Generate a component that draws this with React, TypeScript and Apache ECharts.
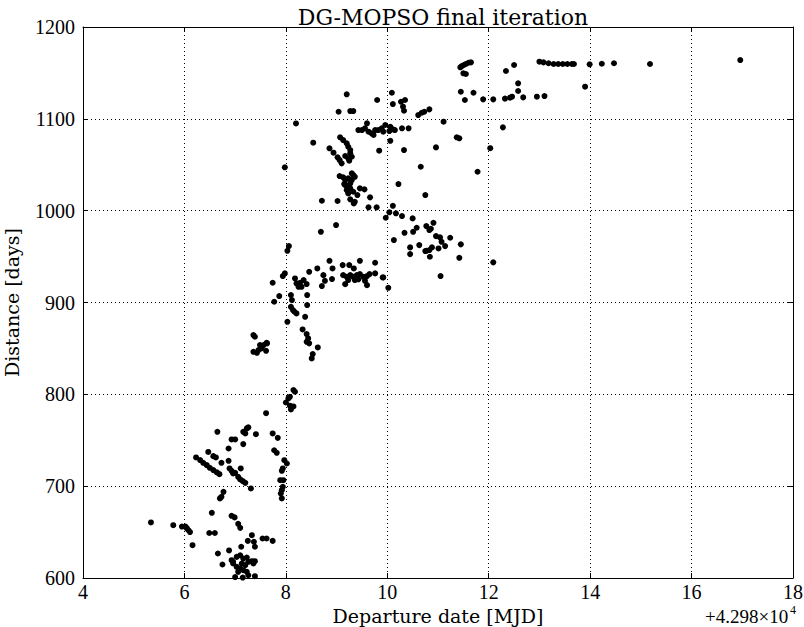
import React, { useEffect, useRef } from "react";
import * as echarts from "echarts";

const xTicks = [4, 6, 8, 10, 12, 14, 16, 18];
const yTicks = [600, 700, 800, 900, 1000, 1100, 1200];

const lowCluster: number[][] = [
  [5.34,660.5],[5.78,657.5],[5.95,656],[6.02,656],[6.05,654],[6.08,652],[6.11,650],[6.16,635.7],[6.54,671],[6.93,667.7],[6.99,666],[7.06,659],[7.1,654.6],[6.49,649],[6.6,649],[7.33,646.6],[7.25,640.4],[7.37,639.4],[7.39,634],[7.54,643],[7.62,643],[7.74,640.4],[7.12,634],[6.66,626.7],[6.88,630],[6.75,614.7],
  [6.93,619.4],[6.96,617.6],[7.03,623],[7.1,624.8],[7.16,621.2],[7.23,622.3],[7.26,617.6],[7.33,618.3],[7.39,618.3],[7.36,615.8],[7.2,614],[7.03,612.1],[7.1,610.4],[7.16,608.5],[7.23,606.7],[7.06,606.7],[7.26,603],[7.39,602],[6.96,615.8],[7.13,615.8],[7.0,601],[7.15,600.5],
  [6.77,693.8],[6.73,688.4],[6.7,686.6],[7.31,697.5]
];

const lowerMidCluster: number[][] = [
  [6.23,731.3],[6.31,728.4],[6.37,725.4],[6.44,722.9],[6.5,720],[6.57,717.5],[6.64,715],[6.69,713.1],[6.47,737.3],[6.57,732.7],[6.62,731.3],[6.73,725.4],[6.65,759.2],[6.87,741],[6.93,750.9],[7.0,750.9],[7.16,759.2],[7.23,762.9],[7.26,764],[7.2,757.4],[7.16,745.8],[7.41,756.6],[7.61,779.5],[7.74,757.4],[7.84,752.6],[7.77,739.1],[7.82,736.3],[6.87,727.6],[6.89,719.3],[6.93,716.7],[6.96,713.8],[7.0,714.5],[7.11,719.3],[7.06,710.1],[7.1,707.3],[7.15,705.5],[7.2,703.6],
  [8.0,791.1],[8.08,787.6],[8.15,786.8],[8.1,783.6],[7.97,728.3],[8.02,724.7],[7.94,719.3],[7.92,716.7],[7.89,706.5],[7.95,706.5],[7.94,699.3],[7.92,695.6],[7.9,692],[7.92,686.6],[8.15,804.6],[8.18,802.8],[8.08,797.3],[8.05,795.5]
];

const middleCluster: number[][] = [
  [7.74,921.5],[7.87,907],[7.77,900.8],[8.1,908.1],[8.12,902.6],[8.1,895.3],[8.14,891.7],[8.17,889.9],[8.21,888.1],[8.03,879],[8.42,908.1],[8.42,897.2],[8.38,884.4],[8.33,870.7],[8.41,865.6],[8.44,860.9],[8.41,857.2],[8.46,855.5],[8.63,851.1],[8.53,843.8],[8.51,839.1],
  [7.36,864.5],[7.39,862.7],[7.62,856.1],[7.56,853.6],[7.61,847.4],[7.52,850],[7.46,848.2],[7.43,845.2],[7.36,846.3],[7.49,853.6],[7.63,855.5],
  [7.98,931.7],[7.94,928.8],[8.18,926.2],[8.21,920.8],[8.28,921.5],[8.35,924.4],[8.31,917.1],[8.41,920.1],[8.25,917.1],[8.46,933.4],[8.62,937.1],[8.74,929.8],[8.77,923.6],[8.71,917.9],[8.86,945.4],[8.92,937.1],[8.91,925.5],[8.06,961.4],[8.03,956.3],[8.69,977],[8.99,984.3]
];

const rightMidCluster: number[][] = [
  [9.12,940.7],[9.25,940.7],[9.46,945.4],[9.34,937.1],[9.76,943.3],[9.76,931.7],[9.92,927.3],[9.13,929.8],[9.2,928],[9.27,929.8],[9.33,928],[9.4,929.8],[9.46,930.9],[9.53,928],[9.6,928.8],[9.23,924.4],[9.36,924.4],[9.43,925.2],[9.56,923.6],[9.17,920],[9.6,918.9],[9.65,930.9],[10.02,916],[9.91,927.3],
  [10.04,998.2],[10.17,997.1],[10.29,994.1],[9.97,992.3],[10.5,991.6],[10.58,981.4],[10.51,977],[10.34,975.9],[10.13,968],[10.77,983.2],[10.83,978.9],[10.86,980.3],[10.91,986.8],[10.45,960],[10.45,952.7],[10.63,962.5],[10.77,956.3],[10.96,972.3],[11.04,970.9],[11.07,966.1],[11.14,961.4],[11.24,970.5],[11.45,963.3],[11.01,958.9],[10.88,960],[10.83,957.1],[10.75,956],[10.84,949.8],[11.42,948.7],[11.05,928.8],[12.09,943.7]
];

const upperCluster: number[][] = [
  [7.98,1047.2],[9.1,1051.5],[9.25,1054.4],[9.06,1037.7],[9.13,1036.3],[9.17,1033.3],[9.23,1035.2],[9.3,1040.6],[9.33,1038.8],[9.36,1036.9],[9.15,1029],[9.21,1026.8],[9.27,1024.3],[9.2,1022.4],[9.23,1018.8],[9.33,1020.6],[9.41,1017],[9.46,1024.3],[9.55,1023.2],[9.27,1012.3],[9.36,1009.7],[9.34,1007.9],[9.17,1027.9],[9.27,1029.7],[9.3,1033.3],[8.71,1010.8],[9.02,1010.5],[9.66,1014.5],[9.63,1003.6],[9.79,1003.6],[10.22,1029],[10.66,1047.8],[10.75,1017],[10.11,1005.3],[11.78,1042.4],
  [9.2,1126.7],[9.8,1120.5],[10.09,1128.4],[10.11,1116.1],[10.27,1118.6],[10.35,1120.5],[10.31,1113.2],[10.33,1108.8],[9.04,1107.7],[9.27,1108.5],[9.33,1108.5],[10.61,1104.1],[10.68,1106.6],[10.73,1107.7],[10.83,1110.3],[11.11,1096.9],[11.37,1079.9],[11.42,1078.8],
  [8.54,1074],[8.86,1067.9],[8.94,1063.1],[9.02,1058.1],[9.06,1055.1],[9.07,1079.9],[9.13,1076.9],[9.2,1073.3],[9.23,1069.6],[9.27,1066],[9.27,1062.4],[9.3,1058.7],[9.23,1057],[9.17,1059.5],
  [9.43,1087.8],[9.5,1087.8],[9.56,1089.7],[9.6,1095.1],[9.63,1086],[9.69,1084.2],[9.73,1082.4],[9.76,1087.8],[9.82,1087.8],[9.89,1089.7],[9.96,1093.3],[9.92,1086],[10.06,1091.4],[10.11,1088.6],[10.15,1087.8],[10.04,1086.7],[10.29,1089.7],[10.42,1089.7],[10.06,1076.1],[9.84,1065.3],[10.33,1066],[10.96,1068.9],[8.2,1095],[12.28,1090.7],[12.03,1068]
];

const topCluster: number[][] = [
  [11.44,1156.1],[11.47,1157.5],[11.51,1158.6],[11.55,1159.7],[11.6,1161.1],[11.65,1161.5],[11.5,1149.6],[11.55,1148.8],[11.45,1129.5],[11.7,1128.4],[11.53,1120.5],[11.89,1121.2],[12.09,1121.2],[12.34,1152.1],[12.5,1158.6],[12.58,1138.7],[12.58,1130.3],[12.32,1122],[12.42,1123],[12.46,1124.1],[12.68,1123.4],[12.95,1124.1],[13.1,1124.8],
  [13.0,1162.2],[13.08,1161.5],[13.18,1160.5],[13.28,1159.7],[13.37,1159.7],[13.46,1159.7],[13.55,1159.7],[13.64,1159.7],[13.68,1159.7],[13.99,1159.4],[14.23,1160],[14.47,1160.5],[13.9,1135],[15.18,1159.7],[16.96,1164]
];

const NUM_FONT = "'Liberation Serif', serif";
const TXT_FONT = "'DejaVu Serif', serif";

export default function App() {
  const ref = useRef<HTMLDivElement>(null);
  useEffect(() => {
    if (!ref.current) return;
    const chart = echarts.init(ref.current, null, { renderer: "svg" });
    const points = [
      ...lowCluster,
      ...lowerMidCluster,
      ...middleCluster,
      ...rightMidCluster,
      ...upperCluster,
      ...topCluster,
    ];
    const dotted = { color: "#000", width: 1, type: [1, 3] as any };
    const axisLine = { show: true, lineStyle: { color: "#000", width: 1 } };
    const tick = { show: true, inside: true, length: 5, lineStyle: { color: "#000" } };
    chart.setOption({
      animation: false,
      backgroundColor: "#fff",
      title: {
        text: "DG-MOPSO final iteration",
        left: 438,
        textAlign: "center",
        top: 1,
        textStyle: { fontFamily: TXT_FONT, fontSize: 22, fontWeight: "normal", color: "#000" },
      },
      grid: { left: 83, right: 11, top: 27, bottom: 49, containLabel: false, outerBoundsMode: "none" } as any,
      xAxis: [
        {
          type: "value",
          min: xTicks[0],
          max: xTicks[xTicks.length - 1],
          interval: 2,
          position: "bottom",
          name: "Departure date [MJD]",
          nameLocation: "middle",
          nameGap: 24,
          nameTextStyle: { fontFamily: TXT_FONT, fontSize: 19, color: "#000" },
          axisLine,
          axisTick: tick,
          axisLabel: { fontFamily: NUM_FONT, fontSize: 20, color: "#000", margin: 4 },
          splitLine: { show: true, lineStyle: dotted },
        },
        {
          type: "value",
          min: xTicks[0],
          max: xTicks[xTicks.length - 1],
          interval: 2,
          position: "top",
          axisLine,
          axisTick: tick,
          axisLabel: { show: false },
          splitLine: { show: false },
        },
      ],
      yAxis: [
        {
          type: "value",
          min: yTicks[0],
          max: yTicks[yTicks.length - 1],
          interval: 100,
          position: "left",
          name: "Distance [days]",
          nameLocation: "middle",
          nameGap: 62,
          nameTextStyle: { fontFamily: TXT_FONT, fontSize: 19, color: "#000" },
          axisLine,
          axisTick: tick,
          axisLabel: {
            fontFamily: NUM_FONT,
            fontSize: 20,
            color: "#000",
            margin: 8,
            formatter: (v: number) => String(v),
          },
          splitLine: { show: true, lineStyle: dotted },
        },
        {
          type: "value",
          min: yTicks[0],
          max: yTicks[yTicks.length - 1],
          interval: 100,
          position: "right",
          axisLine,
          axisTick: tick,
          axisLabel: { show: false },
          splitLine: { show: false },
        },
      ],
      graphic: [
        {
          type: "text",
          left: 705,
          top: 607,
          style: { text: "+4.298×10", font: `19px ${NUM_FONT}`, fill: "#000" },
        },
        {
          type: "text",
          left: 790,
          top: 604,
          style: { text: "4", font: `12px ${NUM_FONT}`, fill: "#000" },
        },
      ],
      series: [
        {
          type: "scatter",
          xAxisIndex: 0,
          yAxisIndex: 0,
          data: points,
          symbol: "circle",
          symbolSize: 6,
          itemStyle: { color: "#000", opacity: 1 },
        },
      ],
    });
    return () => chart.dispose();
  }, []);
  return (
    <div
      ref={ref}
      style={{ position: "fixed", left: 0, top: 0, width: 804, height: 627, background: "#fff" }}
    />
  );
}
